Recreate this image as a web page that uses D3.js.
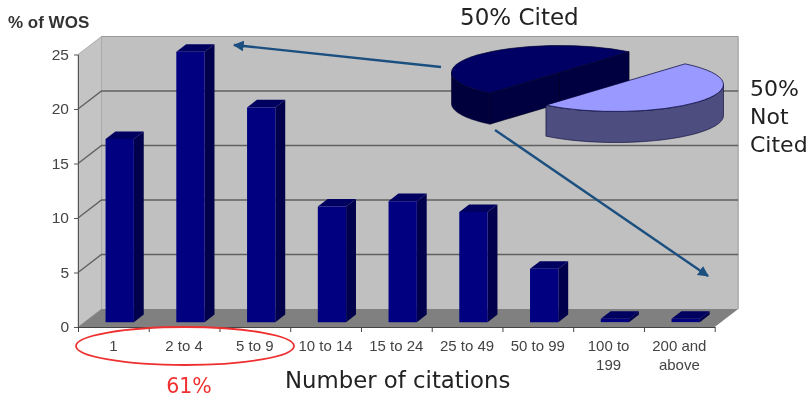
<!DOCTYPE html>
<html>
<head>
<meta charset="utf-8">
<style>
html, body { margin: 0; background: #fff; }
svg { display: block; filter: blur(0.5px); }
.sans { font-family: "Liberation Sans", sans-serif; fill: #444; }
.deja { font-family: "DejaVu Sans", sans-serif; fill: #222; }
</style>
<script src="https://cdn.jsdelivr.net/npm/d3@7"></script>
</head>
<body>
<script>
// Values
const categories = ["1", "2 to 4", "5 to 9", "10 to 14", "15 to 24", "25 to 49", "50 to 99", "100 to 199", "200 and above"];
const percents = [16.8, 24.8, 19.7, 10.6, 11.1, 10.1, 4.9, 0.3, 0.3];
const yTicks = [0, 5, 10, 15, 20, 25];
const pieLabels = ["Not Cited", "Cited"];
const pieValues = [50, 50];

let svg = d3.select("body").append("svg")
    .attr("width", 808)
    .attr("height", 401);

let x = d3.scaleBand().domain(categories).range([78, 714.7]).paddingInner(0.6).paddingOuter(0.3);
let y = d3.scaleLinear().domain([0, 25]).range([327, 54.5]);
let bandEdges = d3.scaleLinear().domain([0, categories.length]).range([78, 714.7]);

// depth of the 3D box
const depthX = 23.5, depthY = -18;
function proj(px, py, z) {
    return [px + depthX * z, py + depthY * z];
}
function poly(points) {
    return "M" + points.map(p => p.join(",")).join("L") + "Z";
}

// walls and floor
let x0 = x.range()[0], x1 = x.range()[1], yb = y(0), yt = y(25);
svg.append("path")
    .attr("d", poly([proj(x0, yt, 1), proj(x1, yt, 1), proj(x1, yb, 1), proj(x0, yb, 1)]))
    .attr("fill", "#c0c0c0");
svg.append("path")
    .attr("d", poly([[x0, yt], proj(x0, yt, 1), proj(x0, yb, 1), [x0, yb]]))
    .attr("fill", "#c4c4c4")
    .attr("stroke", "#999")
    .attr("stroke-width", 0.7);
svg.append("path")
    .attr("d", poly([[x0, yb], proj(x0, yb, 1), proj(x1, yb, 1), [x1, yb]]))
    .attr("fill", "#808080");
svg.append("path")
    .attr("d", poly([proj(x0, yt, 1), proj(x1, yt, 1), proj(x1, yb, 1)]).replace("Z", ""))
    .attr("fill", "none")
    .attr("stroke", "#999")
    .attr("stroke-width", 1);

// gridlines
yTicks.filter(d => d > 0 && d < 25).forEach(d => {
    let line = d3.line()([[x0, y(d)], proj(x0, y(d), 1), proj(x1, y(d), 1)]);
    svg.append("path")
        .attr("d", line)
        .attr("fill", "none")
        .attr("stroke", "#606060")
        .attr("stroke-width", 1.4);
});

// bars
const zFront = 0.27, zBack = 0.69;
let bars = svg.append("g").selectAll("g")
    .data(categories.map((c, i) => ({ c: c, v: percents[i] })))
    .enter().append("g");
bars.append("path")
    .attr("fill", "#00004c")
    .attr("d", d => {
        let r = x(d.c) + x.bandwidth();
        return poly([proj(r, y(d.v), zFront), proj(r, y(d.v), zBack), proj(r, y(0), zBack), proj(r, y(0), zFront)]);
    });
bars.append("path")
    .attr("fill", "#000060")
    .attr("d", d => {
        let l = x(d.c), r = l + x.bandwidth();
        return poly([proj(l, y(d.v), zFront), proj(l, y(d.v), zBack), proj(r, y(d.v), zBack), proj(r, y(d.v), zFront)]);
    });
bars.append("path")
    .attr("fill", "#000080")
    .attr("d", d => {
        let l = x(d.c), r = l + x.bandwidth();
        return poly([proj(l, y(d.v), zFront), proj(r, y(d.v), zFront), proj(r, y(0), zFront), proj(l, y(0), zFront)]);
    });

// axes
let yAxis = svg.append("g")
    .attr("transform", `translate(${x0},0)`)
    .call(d3.axisLeft(y).tickValues(yTicks).tickSize(4).tickPadding(5).tickSizeOuter(0));
yAxis.selectAll("text").attr("class", "sans").style("font-size", "15.5px");
yAxis.selectAll("line, path").attr("stroke", "#555");

let xAxis = svg.append("g")
    .attr("transform", `translate(0,${yb})`)
    .call(d3.axisBottom(bandEdges).tickValues(d3.range(categories.length + 1)).tickSize(5).tickFormat("").tickSizeOuter(0));
xAxis.selectAll("line, path").attr("stroke", "#444");

const wrapped = { "100 to 199": ["100 to", "199"], "200 and above": ["200 and", "above"] };
svg.append("g").selectAll("text")
    .data(categories)
    .enter().append("text")
    .attr("class", "sans")
    .attr("text-anchor", "middle")
    .style("font-size", "15px")
    .each(function(d) {
        let lines = wrapped[d] || [d];
        d3.select(this).selectAll("tspan")
            .data(lines)
            .enter().append("tspan")
            .attr("x", x(d) + x.bandwidth() / 2)
            .attr("y", (l, i) => 351 + i * 19)
            .text(l => l);
    });

svg.append("text")
    .attr("class", "sans")
    .attr("x", 8)
    .attr("y", 28)
    .style("font-size", "17px")
    .style("font-weight", "bold")
    .style("fill", "#333")
    .text("% of WOS");

// arrows
svg.append("defs").append("marker")
    .attr("id", "head")
    .attr("viewBox", "0 0 10 10")
    .attr("refX", 9)
    .attr("refY", 5)
    .attr("markerWidth", 4.5)
    .attr("markerHeight", 4.5)
    .attr("orient", "auto")
    .append("path")
    .attr("d", "M0,0L10,5L0,10Z")
    .attr("fill", "#1b4f80");
[[[441, 67], [234, 45]], [[495, 130], [708, 276]]].forEach(a => {
    svg.append("path")
        .attr("d", d3.line()(a))
        .attr("stroke", "#1b4f80")
        .attr("stroke-width", 2.4)
        .attr("fill", "none")
        .attr("marker-end", "url(#head)");
});

// pie, tilted and extruded by hand
const R = 108, tilt = 0.25, thick = 31;
let arcs = d3.pie().sort(null).startAngle(0.7).endAngle(0.7 + 2 * Math.PI)(pieValues);
let pieCenters = [[615.5, 84.5], [559.5, 72.5]];
let pieTop = ["#9999ff", "#000064"];
let pieRim = ["#4d4d80", "#00003c"];
let arcPath = d3.arc().innerRadius(0).outerRadius(R);

function rimPoint(a, h) {
    return [R * Math.sin(a), -R * Math.cos(a) * tilt + h];
}
function rim(from, to) {
    let steps = d3.range(0, 41).map(i => from + (to - from) * i / 40);
    return poly(steps.map(a => rimPoint(a, 0)).concat(steps.slice().reverse().map(a => rimPoint(a, thick))));
}

function drawSlice(i, rimFrom, rimTo) {
    let g = svg.append("g").attr("transform", `translate(${pieCenters[i]})`);
    let d = arcs[i];
    if (i == 1) {
        // the cut face of the dark half looks towards us
        let a = rimPoint(d.startAngle, 0), b = rimPoint(d.endAngle, 0);
        g.append("path")
            .attr("d", poly([a, b, [b[0], b[1] + thick], [a[0], a[1] + thick]]))
            .attr("fill", "#000040")
            .attr("stroke", "#000020")
            .attr("stroke-width", 0.6);
        g.append("path")
            .attr("d", d3.line()([[0, 0], [0, thick]]))
            .attr("stroke", "#000028")
            .attr("stroke-width", 0.7);
    }
    g.append("path")
        .attr("d", rim(rimFrom, rimTo))
        .attr("fill", pieRim[i])
        .attr("stroke", "#000030")
        .attr("stroke-width", 0.6);
    g.append("g")
        .attr("transform", `scale(1,${tilt})`)
        .append("path")
        .attr("d", arcPath(d))
        .attr("fill", pieTop[i])
        .attr("stroke", "#000030")
        .attr("stroke-width", 0.7)
        .attr("vector-effect", "non-scaling-stroke");
}
drawSlice(1, arcs[1].startAngle, 3 * Math.PI / 2);
drawSlice(0, Math.PI / 2, arcs[0].endAngle);

// annotations
svg.append("text").attr("class", "deja").attr("x", 460).attr("y", 25).style("font-size", "23px")
    .text("50% " + pieLabels[1]);
svg.append("text").attr("class", "deja").style("font-size", "22px")
    .selectAll("tspan")
    .data(["50%", "Not", "Cited"])
    .enter().append("tspan")
    .attr("x", 750)
    .attr("y", (d, i) => 96 + i * 28)
    .text(d => d);
svg.append("text").attr("class", "deja").attr("x", 285).attr("y", 388).style("font-size", "22.8px")
    .text("Number of citations");

svg.append("ellipse")
    .attr("cx", 185)
    .attr("cy", 346)
    .attr("rx", 109)
    .attr("ry", 19)
    .attr("fill", "none")
    .attr("stroke", "#ee3030")
    .attr("stroke-width", 1.8);
svg.append("text").attr("class", "deja")
    .attr("x", 189)
    .attr("y", 393)
    .attr("text-anchor", "middle")
    .style("font-size", "20.5px")
    .style("fill", "#f03030")
    .text("61%");
</script>
</body>
</html>
